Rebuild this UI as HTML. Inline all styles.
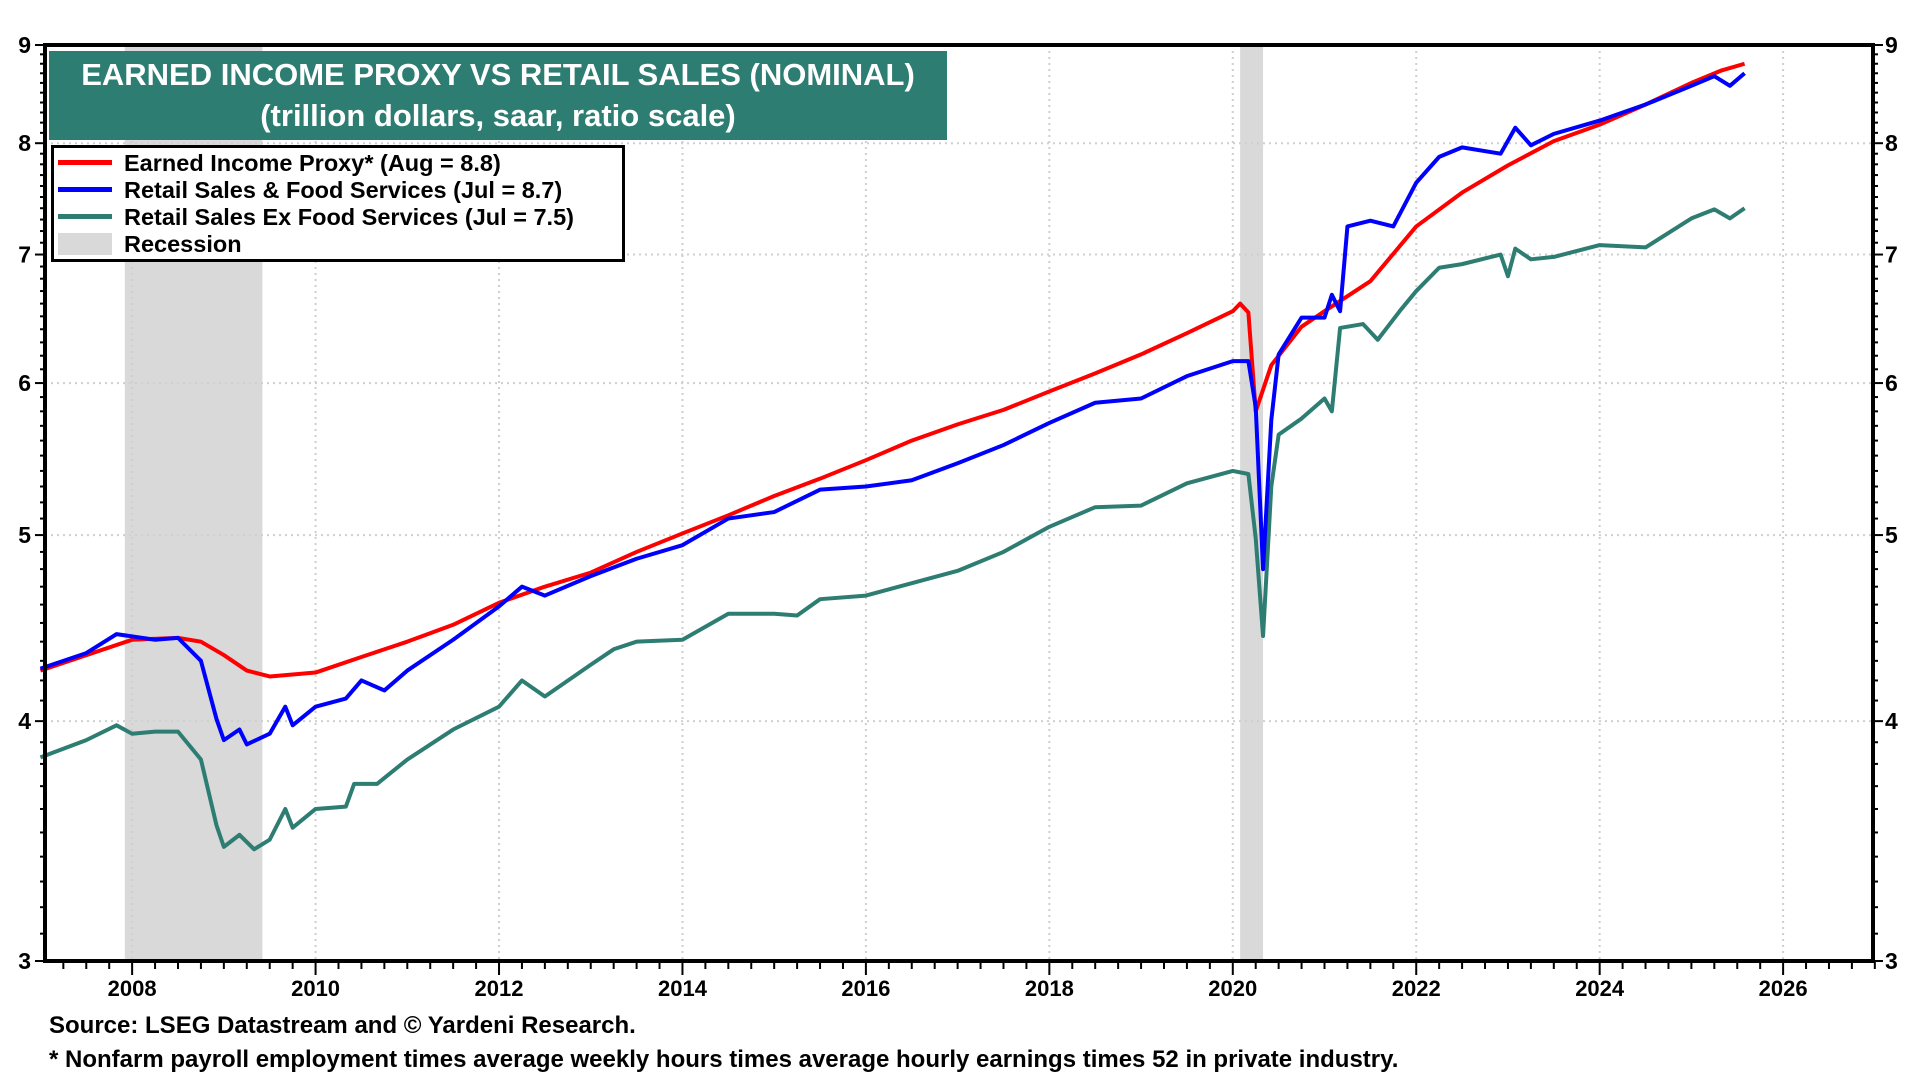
<!DOCTYPE html>
<html><head><meta charset="utf-8">
<style>
body{margin:0;width:1920px;height:1080px;background:#fff;overflow:hidden;font-family:"Liberation Sans",Arial,sans-serif;}
svg{position:absolute;left:0;top:0}
</style></head>
<body>
<svg id="chart" width="1920" height="1080" xmlns="http://www.w3.org/2000/svg"></svg>
<script>
const yearTicks=[2008,2010,2012,2014,2016,2018,2020,2022,2024,2026];
const yTicks=[3,4,5,6,7,8,9];
const recessions=[[2007.92,2009.42],[2020.08,2020.33]];
const incomeDates=[2007.0,2008.0,2008.5,2008.75,2009.0,2009.25,2009.5,2010.0,2010.5,2011.0,2011.5,2012.0,2012.5,2013.0,2013.5,2014.0,2014.5,2015.0,2015.5,2016.0,2016.5,2017.0,2017.5,2018.0,2018.5,2019.0,2019.5,2020.0,2020.08,2020.17,2020.25,2020.42,2020.75,2021.0,2021.5,2022.0,2022.5,2023.0,2023.5,2024.0,2024.5,2025.0,2025.33,2025.58];
const incomeVals=[4.25,4.41,4.42,4.40,4.33,4.25,4.22,4.24,4.32,4.40,4.49,4.61,4.70,4.78,4.90,5.01,5.12,5.24,5.35,5.47,5.60,5.71,5.81,5.94,6.07,6.21,6.37,6.54,6.60,6.53,5.80,6.13,6.42,6.54,6.78,7.24,7.54,7.79,8.02,8.18,8.38,8.60,8.73,8.80];
const salesDates=[2007.0,2007.5,2007.83,2008.25,2008.5,2008.75,2008.92,2009.0,2009.17,2009.25,2009.5,2009.67,2009.75,2010.0,2010.33,2010.5,2010.75,2011.0,2011.5,2012.0,2012.25,2012.5,2013.0,2013.5,2014.0,2014.5,2015.0,2015.5,2016.0,2016.5,2017.0,2017.5,2018.0,2018.5,2019.0,2019.5,2020.0,2020.17,2020.25,2020.33,2020.42,2020.5,2020.75,2021.0,2021.08,2021.17,2021.25,2021.5,2021.75,2022.0,2022.25,2022.5,2022.92,2023.08,2023.25,2023.5,2024.0,2024.5,2025.0,2025.25,2025.42,2025.58];
const salesVals=[4.26,4.34,4.44,4.41,4.42,4.30,4.01,3.91,3.96,3.89,3.94,4.07,3.98,4.07,4.11,4.20,4.15,4.25,4.41,4.59,4.70,4.65,4.76,4.86,4.94,5.10,5.14,5.28,5.30,5.34,5.45,5.57,5.72,5.86,5.89,6.05,6.16,6.16,5.83,4.80,5.74,6.21,6.49,6.49,6.67,6.54,7.24,7.29,7.24,7.63,7.87,7.96,7.90,8.15,7.98,8.09,8.22,8.38,8.57,8.67,8.57,8.70];
const exDates=[2007.0,2007.5,2007.83,2008.0,2008.25,2008.5,2008.75,2008.92,2009.0,2009.17,2009.33,2009.5,2009.67,2009.75,2010.0,2010.33,2010.42,2010.67,2011.0,2011.5,2012.0,2012.25,2012.5,2013.0,2013.25,2013.5,2014.0,2014.5,2015.0,2015.25,2015.5,2016.0,2016.5,2017.0,2017.5,2018.0,2018.5,2019.0,2019.5,2020.0,2020.17,2020.25,2020.33,2020.42,2020.5,2020.75,2021.0,2021.08,2021.17,2021.42,2021.58,2021.83,2022.0,2022.25,2022.5,2022.92,2023.0,2023.08,2023.25,2023.5,2024.0,2024.5,2025.0,2025.25,2025.42,2025.58];
const exVals=[3.83,3.91,3.98,3.94,3.95,3.95,3.82,3.53,3.44,3.49,3.43,3.47,3.60,3.52,3.60,3.61,3.71,3.71,3.82,3.96,4.07,4.20,4.12,4.28,4.36,4.40,4.41,4.55,4.55,4.54,4.63,4.65,4.72,4.79,4.90,5.05,5.17,5.18,5.32,5.40,5.38,4.98,4.43,5.30,5.64,5.75,5.89,5.80,6.41,6.44,6.32,6.55,6.70,6.89,6.92,7.00,6.82,7.05,6.96,6.98,7.08,7.06,7.31,7.39,7.31,7.40];

const L=45,R=1873,T=45,B=961,X0=2007.05,X1=2026.98,YMIN=3,YMAX=9;
const sx=d=>L+(d-X0)/(X1-X0)*(R-L);
const sy=v=>B-Math.log(v/YMIN)/Math.log(YMAX/YMIN)*(B-T);
const svg=document.getElementById('chart');
const NS='http://www.w3.org/2000/svg';
function mk(tag,attrs,parent){const e=document.createElementNS(NS,tag);for(const k in attrs)e.setAttribute(k,attrs[k]);(parent||svg).appendChild(e);return e;}

recessions.forEach(r=>{
  const e=mk('rect',{x:sx(r[0]),y:T,width:sx(r[1])-sx(r[0]),height:B-T,fill:'#d9d9d9'});
  
  
});
yTicks.forEach(v=>{
  if(v>3&&v<9){const g=mk('line',{x1:L,x2:R,y1:sy(v),y2:sy(v),stroke:'#cfcfcf','stroke-width':2,'stroke-dasharray':'2,4'});
  
  }
});
yearTicks.forEach(y=>{
  const g=mk('line',{x1:sx(y),x2:sx(y),y1:T,y2:B,stroke:'#cfcfcf','stroke-width':2,'stroke-dasharray':'2,4'});
  
  
});
function series(ds,vs,color,name){
  const p=mk('polyline',{points:ds.map((d,i)=>sx(d)+','+sy(vs[i])).join(' '),fill:'none',stroke:color,'stroke-width':4,'stroke-linejoin':'round'});
  
  
}
series(exDates,exVals,'#2e7d72','retail-sales-ex-food-line');
series(incomeDates,incomeVals,'#ff0000','earned-income-proxy-line');
series(salesDates,salesVals,'#0000ff','retail-sales-food-line');

const fr=mk('rect',{x:L,y:T,width:R-L,height:B-T,fill:'none',stroke:'#000','stroke-width':4});


for(let v=3;v<9.001;v+=0.1){
  const maj=Math.abs(v-Math.round(v))<1e-6;const len=maj?10:5;
  mk('line',{x1:L-len,x2:L,y1:sy(v),y2:sy(v),stroke:'#000','stroke-width':2});
  mk('line',{x1:R,x2:R+len,y1:sy(v),y2:sy(v),stroke:'#000','stroke-width':2});
}
yTicks.forEach(v=>{
  const t=mk('text',{x:L-14,y:sy(v)+8,'text-anchor':'end','font-size':23,'font-weight':'bold'});t.textContent=v;
  
  
  const t2=mk('text',{x:R+12,y:sy(v)+8,'font-size':23,'font-weight':'bold'});t2.textContent=v;
  
  
});
for(let y=2007;y<2027.01;y+=0.25){
  if(y<X0)continue;
  const maj=yearTicks.includes(y);const len=maj?14:8;
  mk('line',{x1:sx(y),x2:sx(y),y1:B,y2:B+len,stroke:'#000','stroke-width':2});
}
yearTicks.forEach(y=>{
  const t=mk('text',{x:sx(y),y:B+35,'text-anchor':'middle','font-size':22,'font-weight':'bold'});t.textContent=y;
  
  
});
</script>
<div style="position:absolute;left:49px;top:51px;width:898px;height:89px;background:#2e7d72;color:#fff;font-weight:bold;text-align:center;font-size:31px;line-height:41px;padding-top:3px;box-sizing:border-box;">
<div>EARNED INCOME PROXY VS RETAIL SALES (NOMINAL)</div>
<div>(trillion dollars, saar, ratio scale)</div>
</div>
<div style="position:absolute;left:51px;top:145px;width:574px;height:117px;background:#fff;border:3px solid #000;box-sizing:border-box;font-weight:bold;font-size:23.5px;line-height:27px;padding-top:2px;white-space:nowrap;">
<div><span style="display:inline-block;width:54px;height:5px;background:#ff0000;margin:0 12px 5px 4px;vertical-align:middle"></span>Earned Income Proxy* (Aug = 8.8)</div>
<div><span style="display:inline-block;width:54px;height:5px;background:#0000ff;margin:0 12px 5px 4px;vertical-align:middle"></span>Retail Sales &amp; Food Services (Jul = 8.7)</div>
<div><span style="display:inline-block;width:54px;height:5px;background:#2e7d72;margin:0 12px 5px 4px;vertical-align:middle"></span>Retail Sales Ex Food Services (Jul = 7.5)</div>
<div><span style="display:inline-block;width:54px;height:22px;background:#d9d9d9;margin:0 12px 3px 4px;vertical-align:middle"></span>Recession</div>
</div>
<div style="position:absolute;left:49px;top:1012px;font-size:24px;font-weight:bold;">Source: LSEG Datastream and © Yardeni Research.</div>
<div style="position:absolute;left:49px;top:1046px;font-size:24px;font-weight:bold;">* Nonfarm payroll employment times average weekly hours times average hourly earnings times 52 in private industry.</div>
</body></html>
